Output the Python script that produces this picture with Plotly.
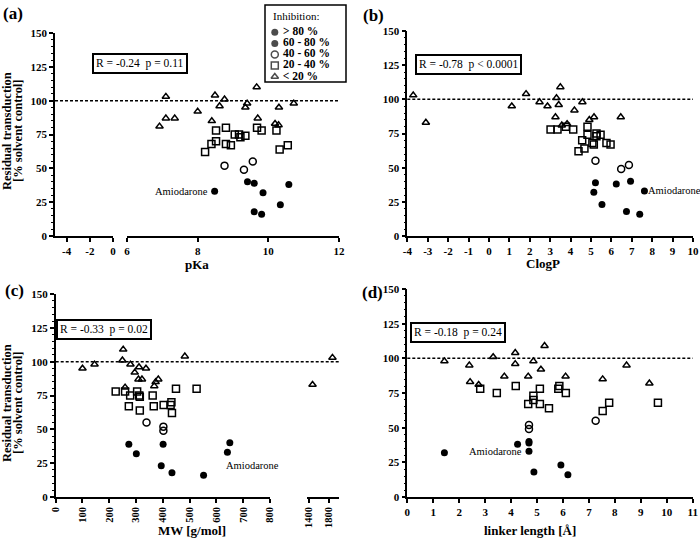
import plotly.graph_objects as go

FONT = "Liberation Serif"
W, H = 700, 539

# legend classes (inhibition)
classes = ["> 80 %", "60 - 80 %", "40 - 60 %", "20 - 40 %", "< 20 %"]
symbols = ["circle", "circle", "circle-open", "square-open", "triangle-up-open"]
sizes = [7, 7, 7, 7, 6.5]

# (a) pKa vs residual transduction; first 60-80 point is Amiodarone
pka_gt80 = [9.60, 9.81]
pka_gt80_res = [18, 16]
pka_60_80 = [8.48, 9.41, 9.60, 9.85, 10.58, 10.34]
pka_60_80_res = [33, 40, 39, 32, 38, 23]
pka_40_60 = [8.76, 9.31, 9.56]
pka_40_60_res = [52, 49, 55]
pka_20_40 = [8.21, 8.39, 8.52, 8.52, 8.80, 8.80, 8.94, 9.05, 9.17, 9.21, 9.35, 9.68, 9.81, 10.23, 10.32, 10.55]
pka_20_40_res = [62, 68, 78, 70, 80, 68, 67, 75, 75, 73, 74, 80, 78, 78, 64, 67]
pka_lt20 = [6.92, 7.10, 7.10, 7.35, 8.00, 8.40, 8.49, 8.62, 8.76, 9.35, 9.40, 9.67, 9.70, 10.19, 10.29, 10.30, 10.72]
pka_lt20_res = [81, 103, 87, 87, 92, 85, 104, 96, 101, 95, 98, 110, 87, 83, 82, 95, 98]
pka_ticks = [-4, -2, 0]

# (b) ClogP
clogp_gt80 = [6.74, 7.39]
clogp_gt80_res = [18, 16]
clogp_60_80 = [7.62, 5.22, 5.14, 5.54, 6.24, 6.94]
clogp_60_80_res = [33, 39, 32, 23, 38, 40]
clogp_40_60 = [5.22, 6.48, 6.86]
clogp_40_60_res = [55, 49, 52]
clogp_20_40 = [3.02, 3.36, 3.77, 4.13, 4.83, 4.83, 4.57, 5.07, 5.14, 5.27, 5.27, 5.47, 5.76, 5.96, 4.39, 4.68]
clogp_20_40_res = [78, 78, 80, 78, 80, 74, 70, 68, 67, 75, 73, 74, 68, 67, 62, 64]
clogp_lt20 = [-3.71, -3.09, 1.12, 1.82, 2.48, 2.87, 3.31, 3.50, 3.42, 3.26, 3.57, 3.83, 4.19, 4.58, 4.92, 5.15, 6.46]
clogp_lt20_res = [103, 83, 95, 104, 98, 95, 101, 109, 96, 87, 81, 82, 92, 98, 85, 87, 87]
clogp_ticks = [-4, -3, -2, -1, 0, 1, 2, 3, 4, 5, 6, 7, 8, 9, 10]

# (c) MW [g/mol]
mw_gt80 = [434, 552]
mw_gt80_res = [18, 16]
mw_60_80 = [641, 273, 301, 401, 394, 650]
mw_60_80_res = [33, 39, 32, 39, 23, 40]
mw_40_60 = [339, 402, 402]
mw_40_60_res = [55, 52, 49]
mw_20_40 = [224, 259, 304, 278, 314, 312, 362, 273, 314, 366, 403, 432, 429, 434, 449, 526]
mw_20_40_res = [78, 78, 78, 75, 74, 75, 75, 67, 64, 67, 68, 70, 68, 62, 80, 80]
mw_lt20 = [100, 145, 252, 249, 279, 295, 311, 337, 309, 322, 259, 373, 368, 383, 482, 1475, 1870]
mw_lt20_res = [95, 98, 109, 101, 98, 92, 96, 95, 87, 87, 81, 85, 82, 87, 104, 83, 103]

# (d) linker length [A]
link_gt80 = [4.88, 6.19]
link_gt80_res = [18, 16]
link_60_80 = [4.69, 1.43, 4.25, 4.69, 4.69, 5.92]
link_60_80_res = [33, 32, 38, 40, 39, 23]
link_40_60 = [4.69, 4.69, 7.26]
link_40_60_res = [52, 49, 55]
link_20_40 = [2.81, 3.45, 4.18, 4.66, 4.86, 4.86, 5.11, 5.11, 5.46, 5.82, 5.86, 6.11, 7.53, 7.78, 9.66]
link_20_40_res = [78, 75, 80, 67, 73, 70, 78, 67, 64, 78, 80, 75, 62, 68, 68]
link_lt20 = [1.43, 2.39, 2.42, 2.75, 3.31, 3.74, 4.16, 4.16, 4.66, 4.86, 5.15, 5.29, 6.10, 7.53, 8.45, 9.33]
link_lt20_res = [98, 95, 83, 81, 101, 87, 104, 96, 87, 98, 92, 109, 87, 85, 95, 82]

stats = ["R = -0.24  p = 0.11", "R = -0.78  p < 0.0001", "R = -0.33  p = 0.02", "R = -0.18  p = 0.24"]


def fx(p):
    return p / W


def fy(p):
    return 1 - p / H


fig = go.Figure()


def add_points(xs, ys, k, xa, ya):
    mk = dict(symbol=symbols[k], size=sizes[k], color="black",
              line=dict(color="black", width=0 if k < 2 else 1.5))
    fig.add_trace(go.Scatter(x=xs, y=ys, mode="markers", marker=mk, xaxis=xa, yaxis=ya,
                             showlegend=False, hoverinfo="skip"))


# empty trace so the left (negative pKa) segment of the broken axis gets drawn
fig.add_trace(go.Scatter(x=[None], y=[None], mode="markers", xaxis="x", yaxis="y",
                         showlegend=False, hoverinfo="skip"))

panels = [
    ("x2", "y", [(pka_gt80, pka_gt80_res), (pka_60_80, pka_60_80_res), (pka_40_60, pka_40_60_res),
                 (pka_20_40, pka_20_40_res), (pka_lt20, pka_lt20_res)]),
    ("x3", "y2", [(clogp_gt80, clogp_gt80_res), (clogp_60_80, clogp_60_80_res), (clogp_40_60, clogp_40_60_res),
                  (clogp_20_40, clogp_20_40_res), (clogp_lt20, clogp_lt20_res)]),
    ("x4", "y3", [(mw_gt80, mw_gt80_res), (mw_60_80, mw_60_80_res), (mw_40_60, mw_40_60_res),
                  (mw_20_40, mw_20_40_res), (mw_lt20, mw_lt20_res)]),
    ("x6", "y4", [(link_gt80, link_gt80_res), (link_60_80, link_60_80_res), (link_40_60, link_40_60_res),
                  (link_20_40, link_20_40_res), (link_lt20, link_lt20_res)]),
]

for xa, ya, groups in panels:
    for k, (xs, ys) in enumerate(groups):
        if xa == "x4":
            # broken MW axis: large molecules go on the second segment
            lo = [(a, b) for a, b in zip(xs, ys) if a <= 800]
            hi = [(a, b) for a, b in zip(xs, ys) if a > 800]
            if lo:
                add_points([p[0] for p in lo], [p[1] for p in lo], k, "x4", ya)
            if hi:
                add_points([p[0] for p in hi], [p[1] for p in hi], k, "x5", ya)
        else:
            add_points(xs, ys, k, xa, ya)

# legend drawn on a hidden axis pair
fig.add_trace(go.Scatter(
    x=[0] * len(classes), y=list(range(len(classes))), mode="markers+text",
    text=["\u00a0" + c for c in classes], textposition="middle right",
    textfont=dict(family=FONT, size=11.5, color="black", weight="bold"),
    marker=dict(symbol=symbols, size=sizes, color="black",
                line=dict(color="black", width=[0, 0, 1.5, 1.5, 1.5])),
    xaxis="x7", yaxis="y5", showlegend=False, hoverinfo="skip", cliponaxis=False))

tick_font = dict(family=FONT, size=11, color="black", weight="bold")
axis_base = dict(showline=True, linecolor="black", linewidth=1.5, ticks="outside", ticklen=4,
                 tickwidth=1.5, tickcolor="black", showgrid=False, zeroline=False,
                 tickfont=tick_font, fixedrange=True, automargin=False)
y_base = dict(axis_base, range=[0, 150], dtick=25,
              minor=dict(dtick=5, ticks="outside", ticklen=2, tickwidth=1, tickcolor="black"))

dom_a1 = [fx(55), fx(113)]
dom_a2 = [fx(127), fx(339)]
dom_c1 = [fx(55.7), fx(270)]
dom_c2 = [fx(307), fx(339)]
dom_b = [fx(407.3), fx(693)]
dom_d = [fx(407.3), fx(692.7)]

fig.update_layout(
    width=W, height=H, template="none",
    margin=dict(l=0, r=0, t=0, b=0),
    paper_bgcolor="white", plot_bgcolor="rgba(0,0,0,0)",
    font=dict(family=FONT, color="black"),
    showlegend=False,
    xaxis=dict(axis_base, domain=dom_a1, range=[-5, 0], tickvals=pka_ticks,
               ticktext=[str(v) for v in pka_ticks], anchor="y"),
    xaxis2=dict(axis_base, domain=dom_a2, range=[6, 12], dtick=2, anchor="y"),
    yaxis=dict(y_base, domain=[fy(236), fy(33)], anchor="x"),
    xaxis3=dict(axis_base, domain=dom_b, range=[-4, 10], tickvals=clogp_ticks,
                ticktext=[str(v) for v in clogp_ticks], anchor="y2"),
    yaxis2=dict(y_base, domain=[fy(236), fy(31)], anchor="x3"),
    xaxis4=dict(axis_base, domain=dom_c1, range=[0, 800], dtick=100, tickangle=-90, anchor="y3",
                tickfont=dict(tick_font, size=10.5)),
    xaxis5=dict(axis_base, domain=dom_c2, range=[1365, 2000], tickvals=[1400, 1800], tickangle=-90,
                anchor="y3", tickfont=dict(tick_font, size=10.5)),
    yaxis3=dict(y_base, domain=[fy(497), fy(294)], anchor="x4"),
    xaxis6=dict(axis_base, domain=dom_d, range=[0, 11], dtick=1, anchor="y4"),
    yaxis4=dict(y_base, domain=[fy(497), fy(289)], anchor="x6"),
    xaxis7=dict(domain=[fx(265), fx(346)], range=[-1.1, 8], visible=False, fixedrange=True),
    yaxis5=dict(domain=[fy(82), fy(5)], range=[4.48, -2.46], visible=False, fixedrange=True, anchor="x7"),
)

shapes = [
    dict(type="rect", xref="x7 domain", yref="y5 domain", x0=0, x1=1, y0=0, y1=1,
         line=dict(color="black", width=1.5)),
]
# dashed reference line at 100 %
for x0, x1, yref in [(dom_a1[0], dom_a2[1], "y"), (dom_b[0], dom_b[1], "y2"),
                     (dom_c1[0], dom_c2[1], "y3"), (dom_d[0], dom_d[1], "y4")]:
    shapes.append(dict(type="line", xref="paper", yref=yref, x0=x0, x1=x1, y0=100, y1=100,
                       line=dict(color="black", width=1.5, dash="3px,2px")))
fig.update_layout(shapes=shapes)

ann = []
# panel letters
for txt, x, y in [("(a)", 1, 2), ("(b)", 361, 4), ("(c)", 3, 279), ("(d)", 360, 281)]:
    ann.append(dict(text=txt, xref="paper", yref="paper", x=fx(x), y=fy(y), xanchor="left", yanchor="top",
                    showarrow=False, font=dict(family=FONT, size=17, weight="bold")))
# statistics boxes
for txt, x, y in zip(stats, [140, 468, 104, 458], [63.5, 64.5, 329, 332.5]):
    ann.append(dict(text=txt, xref="paper", yref="paper", x=fx(x), y=fy(y), xanchor="center",
                    yanchor="middle", showarrow=False, bgcolor="white", bordercolor="black",
                    borderwidth=2, borderpad=2, font=dict(family=FONT, size=11.5)))
# axis titles
for txt, x, y in [("pKa", 197, 264), ("ClogP", 543, 263), ("MW [g/mol]", 192, 530), ("linker length [Å]", 530, 530)]:
    ann.append(dict(text=txt, xref="paper", yref="paper", x=fx(x), y=fy(y), xanchor="center",
                    yanchor="middle", showarrow=False, font=dict(family=FONT, size=13, weight="bold")))
for yc in [131, 403]:
    for txt, x in [("Residual transduction", 7), ("[% solvent control]", 18)]:
        ann.append(dict(text=txt, xref="paper", yref="paper", x=fx(x), y=fy(yc), xanchor="center",
                        yanchor="middle", textangle=-90, showarrow=False,
                        font=dict(family=FONT, size=12.5, weight="bold")))
# Amiodarone labels
amio_font = dict(family=FONT, size=10.5)
ann.append(dict(text="Amiodarone", xref="x2", yref="y", x=pka_60_80[0], y=pka_60_80_res[0],
                xanchor="right", xshift=-5, showarrow=False, font=amio_font))
ann.append(dict(text="Amiodarone", xref="x3", yref="y2", x=clogp_60_80[0], y=clogp_60_80_res[0],
                xanchor="left", xshift=2, showarrow=False, font=amio_font))
ann.append(dict(text="Amiodarone", xref="x4", yref="y3", x=mw_60_80[0], y=mw_60_80_res[0],
                xanchor="left", xshift=-3, yshift=-13, showarrow=False, font=amio_font))
ann.append(dict(text="Amiodarone", xref="x6", yref="y4", x=link_60_80[0], y=link_60_80_res[0],
                xanchor="right", xshift=-5, showarrow=False, font=amio_font))
# legend title
ann.append(dict(text="Inhibition:", xref="x7 domain", yref="y5", x=0.08, y=-1.5, xanchor="left",
                yanchor="middle", showarrow=False, font=dict(family=FONT, size=11)))
fig.update_layout(annotations=ann)

# page body margin would push the 700x539 figure out of the window
fig.write_html("out.html", config={"displayModeBar": False},
               post_script="document.body.style.margin = '0';")
